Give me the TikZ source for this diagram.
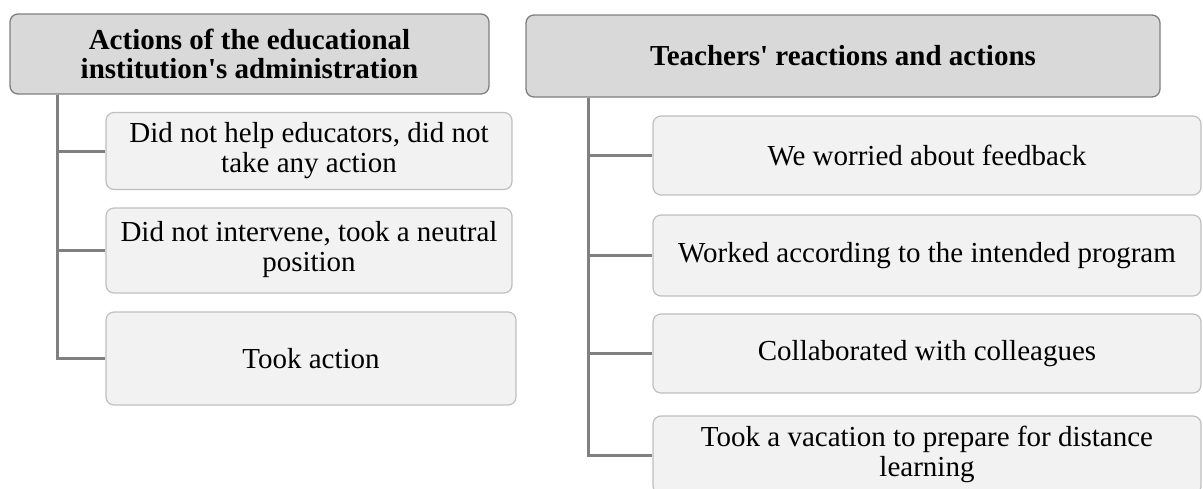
\documentclass[tikz,border=0pt]{standalone}
\usepackage{fontspec}
\setmainfont{Liberation Serif}[Ligatures=TeXOff]
\definecolor{hdrfill}{HTML}{D9D9D9}
\definecolor{hdrline}{HTML}{7F7F7F}
\definecolor{boxfill}{HTML}{F2F2F2}
\definecolor{boxline}{HTML}{BFBFBF}
\definecolor{connline}{HTML}{808080}
\tikzset{
  hdr/.style={draw=hdrline, fill=hdrfill, line width=1.3pt, rounded corners=8pt, inner sep=0pt, align=center, font=\fontsize{29}{29}\selectfont\bfseries},
  itembox/.style={draw=boxline, fill=boxfill, line width=1.2pt, rounded corners=8pt, inner sep=0pt, align=center, font=\fontsize{29}{30}\selectfont},
  conn/.style={draw=connline, line width=3pt}
}
\begin{document}
\begin{tikzpicture}[x=1pt,y=-1pt]
\useasboundingbox (0,0) rectangle (1203,488);
% left column
\node[hdr, minimum width=479pt, minimum height=80pt] (lh) at (249.5,54) {Actions of the educational\\institution's administration};
\node[itembox, minimum width=406pt, minimum height=77pt] (l1) at (309,151) {\strut Did not help educators, did not\\take any action\strut};
\node[itembox, minimum width=406pt, minimum height=85pt] (l2) at (309,250.5) {\strut Did not intervene, took a neutral\\position\strut};
\node[itembox, minimum width=410pt, minimum height=93pt] (l3) at (311,358.5) {Took action};
% right column
\node[hdr, minimum width=634pt, minimum height=82pt] (rh) at (843,56) {Teachers' reactions and actions};
\node[itembox, minimum width=548pt, minimum height=79pt] (r1) at (927,155.5) {We worried about feedback};
\node[itembox, minimum width=548pt, minimum height=81pt] (r2) at (927,255.5) {Worked according to the intended program};
\node[itembox, minimum width=548pt, minimum height=79pt] (r3) at (927,353.5) {Collaborated with colleagues};
\node[itembox, minimum width=548pt, minimum height=78pt] (r4) at (927,455) {\strut Took a vacation to prepare for distance\\learning\strut};
% connectors
\draw[conn] ([xshift=48pt]lh.south west) |- (l3.west);
\draw[conn] ([xshift=48pt]lh.south west) |- (l1.west);
\draw[conn] ([xshift=48pt]lh.south west) |- (l2.west);
\draw[conn] ([xshift=63pt]rh.south west) |- (r4.west);
\draw[conn] ([xshift=63pt]rh.south west) |- (r1.west);
\draw[conn] ([xshift=63pt]rh.south west) |- (r2.west);
\draw[conn] ([xshift=63pt]rh.south west) |- (r3.west);
\end{tikzpicture}
\end{document}
